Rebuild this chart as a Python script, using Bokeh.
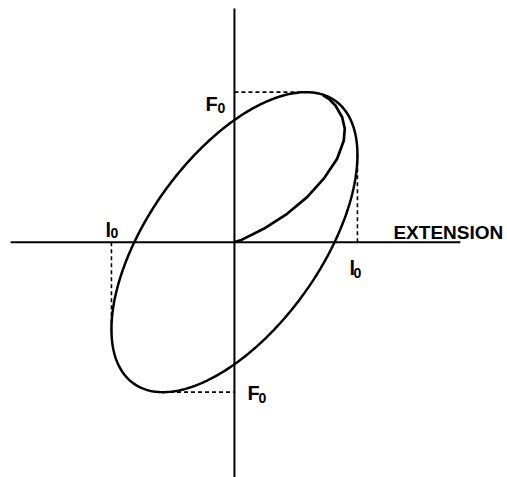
import numpy as np
from bokeh.plotting import figure
from bokeh.models import Range1d
from bokeh.core.properties import value
from bokeh.embed import file_html
from bokeh.resources import INLINE

# ---- data (units: l0 = 1, F0 = 1) ----
L0 = 1.0            # extension amplitude
F0 = 1.0            # force amplitude
DELTA_DEG = 54.5    # phase lag of force ahead of extension
# initial (transient) curve from origin until it joins the steady loop
trans_x = [0.0, 0.05, 0.238, 0.428, 0.591, 0.726, 0.835, 0.889, 0.897, 0.876, 0.821, 0.767, 0.72]
trans_y = [0.0, 0.012, 0.089, 0.189, 0.300, 0.423, 0.556, 0.678, 0.756, 0.833, 0.911, 0.956, 0.978]
axis_x_extent = [-1.82, 1.837]
axis_y_extent = [-1.57, 1.558]
label_main = ["F", "F", "l", "l"]
label_sub = ["0", "0", "0", "0"]
x_label = "EXTENSION"

delta = np.deg2rad(DELTA_DEG)
t = np.linspace(0, 2 * np.pi, 400)
ex = L0 * np.sin(t)
ey = F0 * np.sin(t + delta)

# characteristic points of the loop
top = (L0 * np.cos(delta), F0)
bottom = (-L0 * np.cos(delta), -F0)
right = (L0, F0 * np.cos(delta))
left = (-L0, -F0 * np.cos(delta))

p = figure(width=507, height=477, output_backend="svg", toolbar_location=None,
           x_axis_location=None, y_axis_location=None, min_border=0,
           x_range=Range1d(-1.902, 2.220), y_range=Range1d(-1.569, 1.611))
p.outline_line_color = None
p.xgrid.grid_line_color = None
p.ygrid.grid_line_color = None
p.background_fill_color = "white"

# axes
p.line(axis_x_extent, [0, 0], line_color="black", line_width=2)
p.line([0, 0], axis_y_extent, line_color="black", line_width=2)

# dashed guides
dash = dict(line_color="black", line_width=1.6, line_dash="4 3")
p.line([0, top[0]], [top[1], top[1]], **dash)
p.line([bottom[0], 0], [bottom[1], bottom[1]], **dash)
p.line([right[0], right[0]], [0, right[1]], **dash)
p.line([left[0], left[0]], [0, left[1]], **dash)

# loop and transient
p.line(ex, ey, line_color="black", line_width=2.5)
p.line(trans_x, trans_y, line_color="black", line_width=2.7, line_join="round")

font = value("Liberation Sans")
anchors_x = [0, 0, -L0, L0]
anchors_y = [F0, -F0, 0, 0]
main_dx = [-29, 13, -6, -8]
main_dy = [12, 1, -12, 26]
sub_dx = [-17, 24, -1, -4]
sub_dy = [16, 6, -9, 31]
for i in range(4):
    p.text([anchors_x[i]], [anchors_y[i]], text=[label_main[i]],
           x_offset=main_dx[i], y_offset=main_dy[i],
           text_font=font, text_font_style="bold", text_font_size="20px",
           text_align="left", text_baseline="alphabetic", text_color="black")
    p.text([anchors_x[i]], [anchors_y[i]], text=[label_sub[i]],
           x_offset=sub_dx[i], y_offset=sub_dy[i],
           text_font=font, text_font_style="bold", text_font_size="14px",
           text_align="left", text_baseline="alphabetic", text_color="black")

p.text([L0], [0], text=[x_label], x_offset=36, y_offset=-10,
       text_font=font, text_font_style="bold", text_font_size="19px",
       text_align="left", text_baseline="alphabetic", text_color="black")

open("out.html", "w").write(file_html(p, INLINE))
